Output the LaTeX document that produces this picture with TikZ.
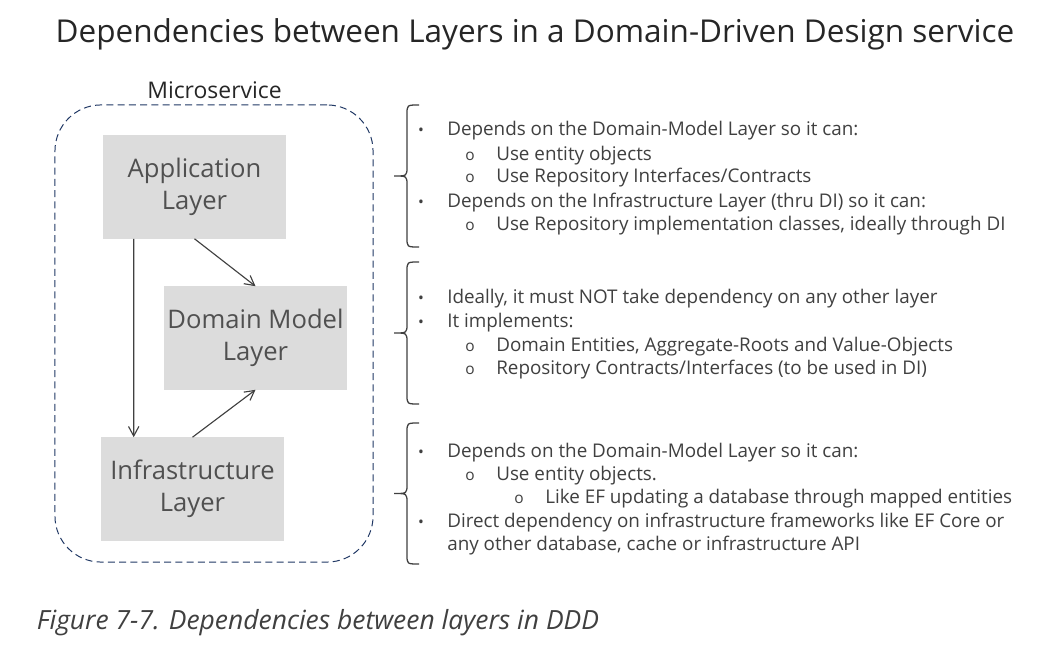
\documentclass[tikz,border=0pt]{standalone}
\usepackage{fontspec}
\setmainfont{Open Sans}
\usetikzlibrary{arrows.meta,calc}

\definecolor{boxgray}{HTML}{DCDCDC}
\definecolor{boxtext}{HTML}{505050}
\definecolor{txtgray}{HTML}{404040}
\definecolor{msblue}{HTML}{203864}
\definecolor{titlegray}{HTML}{262626}

% curly brace from #1 (top) to #2 (bottom), tip pointing left
\newcommand\grpbrace[2]{%
  \draw[grp] (#1) .. controls ($(#1)+(-12,0)$) .. ($(#1)+(-12,9)$)
    -- ($(#1)!.5!(#2)+(-12,-9)$) .. controls ($(#1)!.5!(#2)+(-12,0)$) .. ($(#1)!.5!(#2)+(-25,0)$)
    .. controls ($(#1)!.5!(#2)+(-12,0)$) .. ($(#1)!.5!(#2)+(-12,9)$)
    -- ($(#2)+(-12,-9)$) .. controls ($(#2)+(-12,0)$) .. (#2);}

\begin{document}
\begin{tikzpicture}
[x=0.025cm, y=-0.025cm,
 layerbox/.style={fill=boxgray, text=boxtext, align=center, inner sep=0pt,
   minimum width=4.575cm, minimum height=2.575cm, font=\fontsize{18.2}{22.5}\selectfont},
 container/.style={draw=msblue, line width=0.7pt, dash pattern=on 5pt off 3pt,
   rounded corners=1.15cm, minimum width=7.95cm, minimum height=11.425cm},
 dep/.style={-{Straight Barb[length=2.4mm,width=2.6mm]}, line width=0.8pt, draw=txtgray},
 grp/.style={draw=txtgray, line width=0.9pt},
 itemtxt/.style={anchor=base west, inner sep=0pt, text=txtgray, font=\fontsize{13.4}{16}\selectfont},
 bulletmk/.style={anchor=base, inner sep=0pt, text=txtgray, font=\fontsize{11}{13}\selectfont}]
\path[fill=white, use as bounding box] (0,0) rectangle (1060,650);

\node[anchor=base, text=titlegray, font=\fontsize{22.4}{27}\selectfont] (title) at (535,43)
  {Dependencies between Layers in a Domain-Driven Design service};

% microservice with its three layers
\node[container] (ms) at (214,333.5) {};
\node[anchor=base, text=titlegray, font=\fontsize{16.3}{19}\selectfont] (mslbl) at (214.5,99) {Microservice};
\node[layerbox] (app) at (194.5,187) {Application\\Layer};
\node[layerbox] (dom) at (255.5,338) {Domain Model\\Layer};
\node[layerbox] (infra) at (192.5,489) {Infrastructure\\Layer};

\draw[dep] ([xshift=0.775cm]app.south west) -- ([xshift=0.825cm]infra.north west);
\draw[dep] (app.south) -- (dom.north);
\draw[dep] (infra.north) -- (dom.south);

% braces
\coordinate (g1t) at (419,105);
\coordinate (g1b) at (419,247);
\coordinate (g2t) at (419,262);
\coordinate (g2b) at (419,404);
\coordinate (g3t) at (419,423);
\coordinate (g3b) at (419,564);
\grpbrace{g1t}{g1b}
\grpbrace{g2t}{g2b}
\grpbrace{g3t}{g3b}

% bullet lists
\foreach \lvl/\yy/\txt in {
  1/136/{Depends on the Domain-Model Layer so it can:},
  2/160/{Use entity objects},
  2/183/{Use Repository Interfaces/Contracts},
  1/207/{Depends on the Infrastructure Layer (thru DI) so it can:},
  2/230/{Use Repository implementation classes, ideally through DI},
  1/303/{Ideally, it must NOT take dependency on any other layer},
  1/327/{It implements:},
  2/351/{Domain Entities, Aggregate-Roots and Value-Objects},
  2/374/{Repository Contracts/Interfaces (to be used in DI)},
  1/457/{Depends on the Domain-Model Layer so it can:},
  2/480/{Use entity objects.},
  3/503/{Like EF updating a database through mapped entities},
  1/527/{Direct dependency on infrastructure frameworks like EF Core or},
  0/550/{any other database, cache or infrastructure API}}
{
  \pgfmathsetmacro\tx{ifthenelse(\lvl==0,447,398+49*\lvl)}
  \node[itemtxt] (t\yy) at (\tx,\yy) {\txt};
  \ifnum\lvl>0
    \node[bulletmk] (m\yy) at (\tx-26,\yy) {\ifnum\lvl=1 •\else o\fi};
  \fi
}

\node[anchor=base west, text=txtgray, font=\itshape\fontsize{18.8}{22}\selectfont] (caption) at (32,629)
  {Figure 7-7. Dependencies between layers in DDD};
\end{tikzpicture}
\end{document}
